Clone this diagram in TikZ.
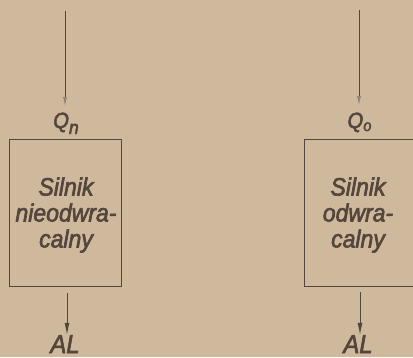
\documentclass[tikz,border=0pt]{standalone}
\usepackage{fontspec}
\setmainfont{Liberation Sans}
\newfontfamily\letterfont[FakeStretch=0.92,FakeBold=2.5,ItalicFont=* Italic,UprightFont=* Italic]{Liberation Sans}
\usetikzlibrary{arrows.meta}
\definecolor{paper}{RGB}{207,185,156}
\definecolor{ink}{RGB}{84,70,60}
\definecolor{faint}{RGB}{150,130,112}
\begin{document}
\begin{tikzpicture}[x=1pt,y=-1pt,
  ink line/.style={draw=ink,line width=0.9pt},
  enginebox/.style={ink line,rectangle,inner sep=0pt,anchor=north west},
  boxtext/.style={text=ink,align=center,inner sep=0pt,font=\letterfont\fontsize{25}{26}\selectfont},
  qlabel/.style={text=ink,anchor=base,inner sep=0pt,font=\letterfont\fontsize{22}{22}\selectfont},
  wlabel/.style={text=ink,anchor=base,inner sep=0pt,font=\letterfont\fontsize{26}{26}\selectfont},
  outarrow/.style={ink line,-{Latex[length=12pt,width=5pt]}},
  inarrow/.style={draw=ink,line width=0.8pt,-{Latex[length=9pt,width=4pt,color=faint,fill=faint]}}]
\fill[paper] (0,0) rectangle (413,357);
\useasboundingbox (0,0) rectangle (413,357);
\clip (0,0) rectangle (413,357);
% left engine
\node[enginebox,minimum width=111.5pt,minimum height=147pt] (boxL) at (9.3,139.3) {};
\node[boxtext] (txtL) at (66,215) {Silnik\\nieodwra-\\calny};
\coordinate (inL) at (65,11);
\node[qlabel] (QL) at (66,128) {Q\raisebox{-6pt}{\fontsize{19}{19}\selectfont n}};
\coordinate (outLs) at (67,293);
\node[wlabel] (ALL) at (65,353) {AL};
\draw[inarrow] (inL) -- (65,106);
\draw[outarrow] (outLs) -- (ALL.north -| outLs);
% right engine
\node[enginebox,minimum width=110pt,minimum height=147pt] (boxR) at (304,139.3) {};
\node[boxtext] (txtR) at (358,215) {Silnik\\odwra-\\calny};
\coordinate (inR) at (359,10);
\node[qlabel] (QR) at (359.5,128) {Q\raisebox{-3pt}{\fontsize{16}{16}\selectfont o}};
\coordinate (outRs) at (360,292);
\node[wlabel] (ALR) at (358,353) {AL};
\draw[inarrow] (inR) -- (359,105);
\draw[outarrow] (outRs) -- (ALR.north -| outRs);
\end{tikzpicture}
\end{document}
